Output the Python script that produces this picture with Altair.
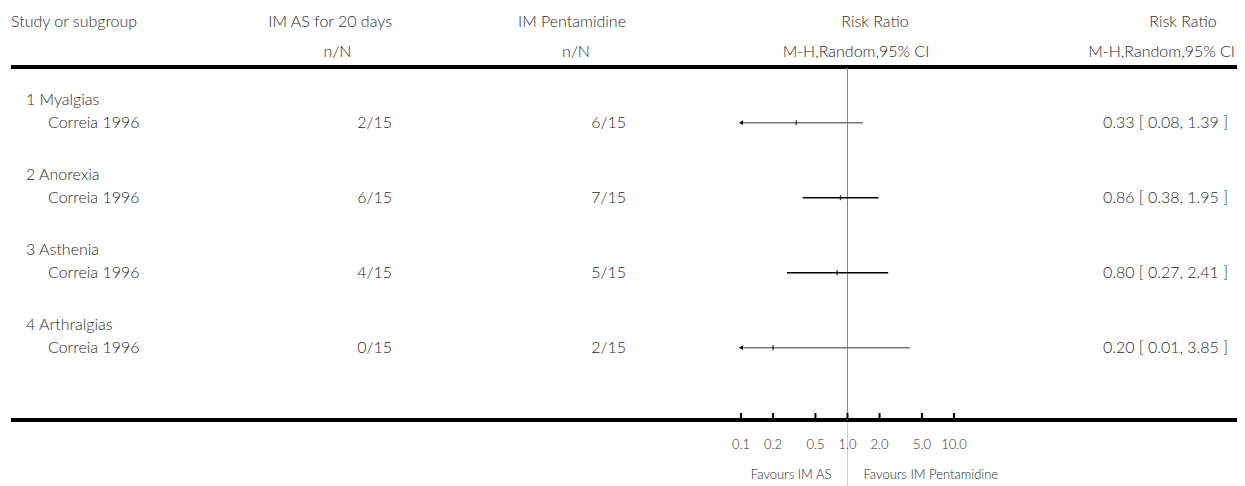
import altair as alt
import pandas as pd

# ---- data ----
groups = ["1 Myalgias", "2 Anorexia", "3 Asthenia", "4 Arthralgias"]
studies = ["Correia 1996", "Correia 1996", "Correia 1996", "Correia 1996"]
exp_events = ["2/15", "6/15", "4/15", "0/15"]
ctl_events = ["6/15", "7/15", "5/15", "2/15"]
rr = [0.33, 0.86, 0.80, 0.20]
ci_low = [0.08, 0.38, 0.27, 0.01]
ci_high = [1.39, 1.95, 2.41, 3.85]
tick_values = [0.1, 0.2, 0.5, 1.0, 2.0, 5.0, 10.0]
tick_labels = ["0.1", "0.2", "0.5", "1.0", "2.0", "5.0", "10.0"]

X_MIN, X_MAX = 0.1, 10.0

df = pd.DataFrame({
    "idx": list(range(len(groups))),
    "group": groups,
    "study": studies,
    "exp": exp_events,
    "ctl": ctl_events,
    "rr": rr,
    "lo": ci_low,
    "hi": ci_high,
})
df["lo_c"] = df["lo"].clip(lower=X_MIN)
df["hi_c"] = df["hi"].clip(upper=X_MAX)
df["clipped"] = df["lo"] < X_MIN
df["label"] = [f"{a:.2f} [ {b:.2f}, {c:.2f} ]" for a, b, c in zip(rr, ci_low, ci_high)]

ticks = pd.DataFrame({"v": tick_values, "lab": tick_labels})
null_line = pd.DataFrame({"v": [1.0]})

FONT = "Lato"
TXT = "#2b2b2b"
FS = 16

xs = alt.Scale(type="log", domain=[X_MIN, X_MAX], range=[733, 946], clamp=True)
ys = alt.Scale(domain=[0, 3], range=[114.7, 339.7])
X = lambda f: alt.X(f, scale=xs, axis=None)
Y = alt.Y("idx:Q", scale=ys, axis=None)


def header(text, x, y, align, size=FS):
    return alt.Chart(pd.DataFrame({"t": [text]})).mark_text(
        align=align, baseline="middle", font=FONT, fontSize=size,
        fontWeight=300, color=TXT
    ).encode(x=alt.value(x), y=alt.value(y), text="t:N")


headers = [
    header("Study or subgroup", 3, 14, "left"),
    header("IM AS for 20 days", 384, 14, "right"),
    header("n/N", 329.5, 44, "center"),
    header("IM Pentamidine", 618, 14, "right"),
    header("n/N", 568, 44, "center"),
    header("Risk Ratio", 867, 14, "center"),
    header("M-H,Random,95% CI", 848, 44, "center"),
    header("Risk Ratio", 1175, 14, "center"),
    header("M-H,Random,95% CI", 1227, 44, "right"),
]

base = alt.Chart(df)


def col_text(field, x, align, dy):
    return base.mark_text(
        align=align, baseline="middle", font=FONT, fontSize=FS,
        fontWeight=300, color=TXT, dy=dy
    ).encode(x=alt.value(x), y=Y, text=f"{field}:N")


texts = [
    col_text("group", 18, "left", -23),
    col_text("study", 40, "left", 0),
    col_text("exp", 384, "right", 0),
    col_text("ctl", 618, "right", 0),
    col_text("label", 1220, "right", 0),
]

# thick horizontal rules
top_rule = alt.Chart(pd.DataFrame({"a": [0]})).mark_rule(color="black", strokeWidth=4).encode(
    x=alt.value(3), x2=alt.value(1229), y=alt.value(59))
bottom_rule = alt.Chart(pd.DataFrame({"a": [0]})).mark_rule(color="black", strokeWidth=4).encode(
    x=alt.value(3), x2=alt.value(1229), y=alt.value(412))

# line of no effect
null_v = alt.Chart(null_line).mark_rule(color="#8a8a8a", strokeWidth=1).encode(
    x=X("v:Q"), y=alt.value(60), y2=alt.value(412))
null_v2 = alt.Chart(null_line).mark_rule(color="#d0d0d0", strokeWidth=1).encode(
    x=X("v:Q"), y=alt.value(414), y2=alt.value(480))

# confidence intervals
ci = base.mark_rule(strokeWidth=1.4).encode(
    x=X("lo_c:Q"), x2="hi_c:Q", y=Y,
    color=alt.condition("datum.clipped", alt.value("#777777"), alt.value("black")),
)
est = base.mark_tick(orient="vertical", size=5, thickness=1.5, color="black").encode(
    x=X("rr:Q"), y=Y)
arrows = base.transform_filter("datum.clipped").mark_point(
    shape="triangle-left", filled=True, size=22, color="black", opacity=1
).encode(x=X("lo_c:Q"), y=Y)

# axis
tick_marks = alt.Chart(ticks).mark_rule(color="black", strokeWidth=2).encode(
    x=X("v:Q"), y=alt.value(405), y2=alt.value(411))
tick_text = alt.Chart(ticks).mark_text(
    baseline="middle", font=FONT, fontSize=13, fontWeight=300, color=TXT
).encode(x=X("v:Q"), y=alt.value(437), text="lab:N")

fav = pd.DataFrame({"v": [1.0], "l": ["Favours IM AS"], "r": ["Favours IM Pentamidine"]})
fav_l = alt.Chart(fav).mark_text(
    align="right", baseline="middle", font=FONT, fontSize=13, fontWeight=300,
    color=TXT, dx=-16
).encode(x=X("v:Q"), y=alt.value(467), text="l:N")
fav_r = alt.Chart(fav).mark_text(
    align="left", baseline="middle", font=FONT, fontSize=13, fontWeight=300,
    color=TXT, dx=16
).encode(x=X("v:Q"), y=alt.value(467), text="r:N")

chart = alt.layer(
    *headers, *texts, top_rule, bottom_rule, null_v, null_v2, ci, est, arrows,
    tick_marks, tick_text, fav_l, fav_r
).properties(
    width=1229, height=478, padding=0,
    autosize=alt.AutoSizeParams(type="none"),
).configure_view(stroke=None)

chart.save("out.html", embed_options={"renderer": "svg", "actions": False})
